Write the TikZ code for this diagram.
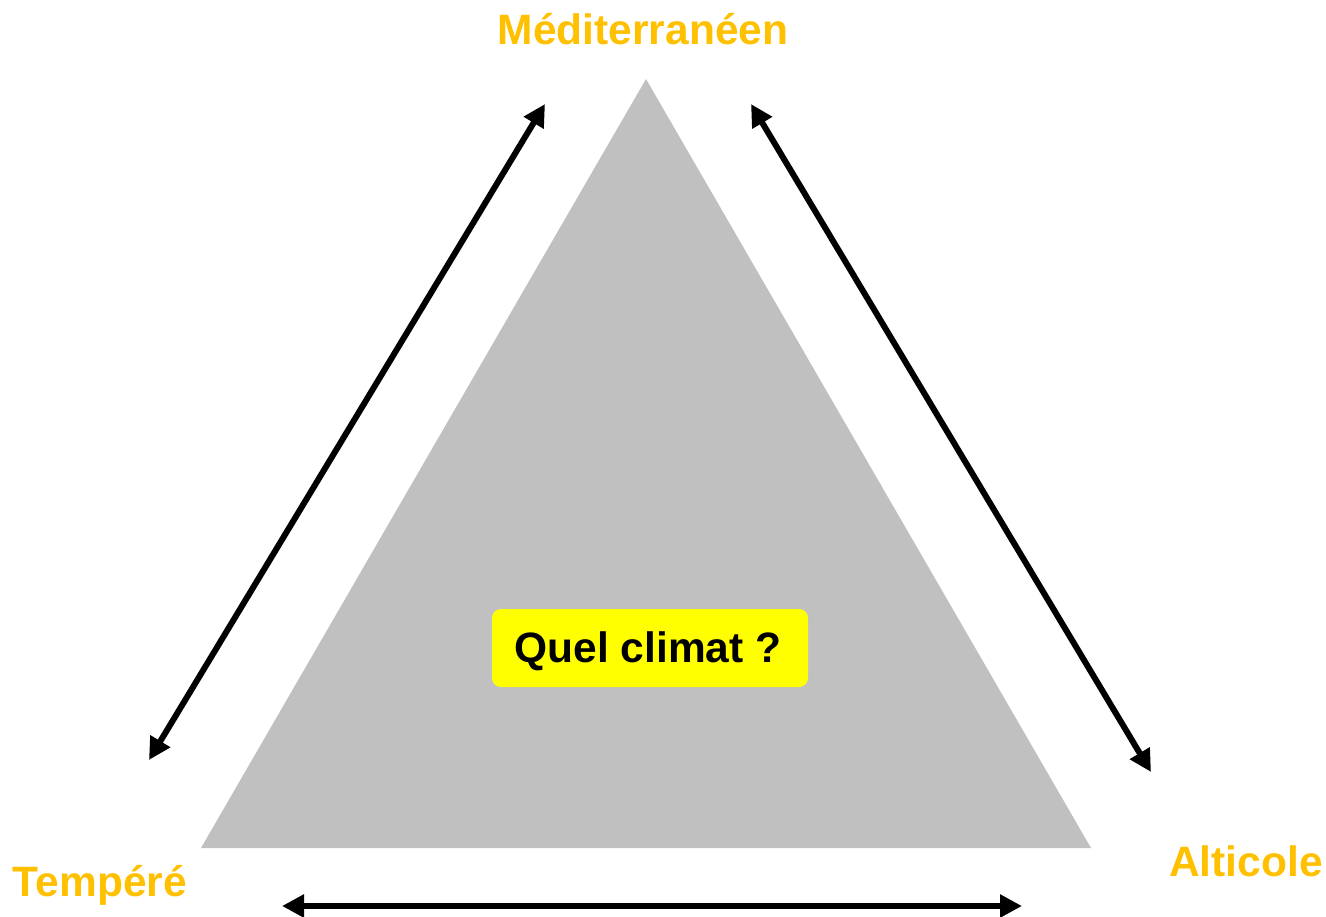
\documentclass[tikz,border=0pt]{standalone}
\usepackage{fontspec}
\setmainfont{Liberation Sans}
\usetikzlibrary{arrows.meta}
\definecolor{lbl}{HTML}{FFC000}
\definecolor{tri}{HTML}{C0C0C0}
\definecolor{qbox}{HTML}{FFFF00}
\begin{document}
\begin{tikzpicture}[x=1pt,y=-1pt,
  lab/.style={text=lbl,font=\bfseries\fontsize{42.5}{50}\selectfont,inner sep=0pt},
  conn/.style={line width=6pt,{Triangle[length=22pt,width=22pt]}-{Triangle[length=22pt,width=22pt]}}]
\useasboundingbox (0,0) rectangle (1326,917);
\fill[tri] (646,79) -- (201,848) -- (1091,848) -- cycle;
\node[fill=qbox,rounded corners=9pt,minimum width=316pt,minimum height=78pt,inner sep=0pt] (q) at (650,648) {};
\node[font=\bfseries\fontsize{42.5}{50}\selectfont,inner sep=0pt] (qt) at (648,651) {Quel climat ?};
\node[lab] (med) at (643,29) {Méditerranéen};
\node[lab] (temp) at (100,885) {Tempéré};
\node[lab] (alt) at (1246,861) {Alticole};
\coordinate (l1) at (545,104);
\coordinate (l2) at (149,760);
\coordinate (r1) at (751,104);
\coordinate (r2) at (1151,772);
\coordinate (b1) at (282,906);
\coordinate (b2) at (1022,906);
\draw[conn] (l1) -- (l2);
\draw[conn] (r1) -- (r2);
\draw[conn] (b1) -- (b2);
\end{tikzpicture}
\end{document}
